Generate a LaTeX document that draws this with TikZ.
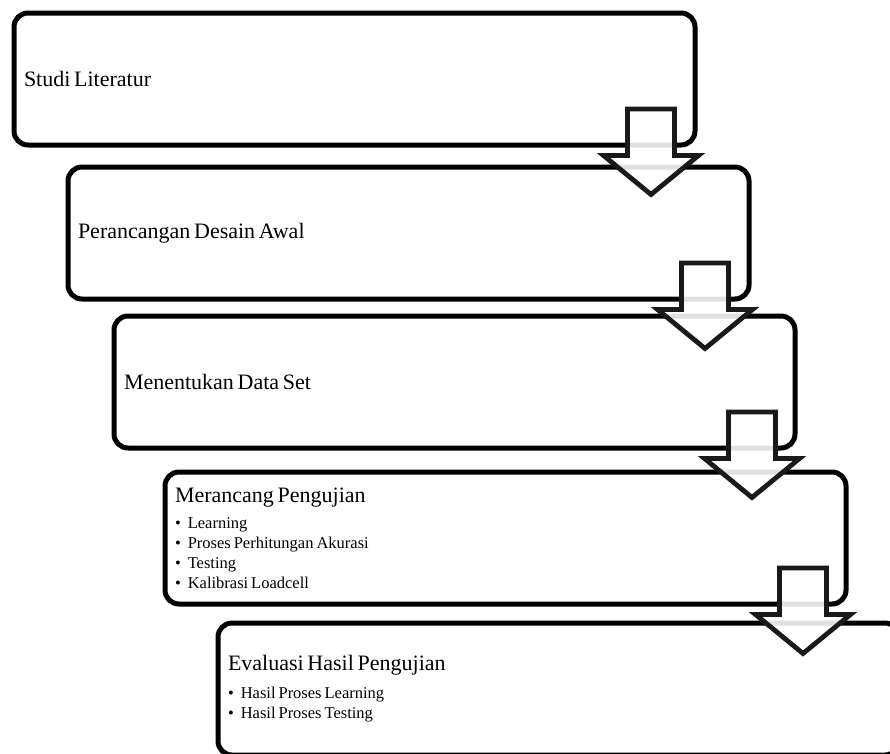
\documentclass[tikz,border=0pt]{standalone}
\usepackage{fontspec}
\setmainfont{Liberation Serif}
\usetikzlibrary{calc}

\newcommand{\titlesize}{\fontsize{22}{26}\selectfont\setlength{\spaceskip}{0.17em}}
\newcommand{\bulletsize}{\fontsize{16.5}{20}\selectfont\setlength{\spaceskip}{0.18em}}

\tikzset{
  stagebox/.style={draw=black, line width=5pt, rounded corners=14pt,
    anchor=north west, outer sep=0pt, inner xsep=10pt, inner ysep=4pt,
    text width=661pt, minimum height=132pt, align=flush left,
    font=\titlesize},
  downarrow/.style={draw=black!90, line width=4.8pt, fill=white,
    fill opacity=0.88, miter limit=10}
}

\begin{document}
\begin{tikzpicture}[x=1pt,y=1pt]
    \useasboundingbox (0,0) rectangle (890,-753);
    \clip (0,0) rectangle (890,-753);

    \node [stagebox] (S1) at (14,-13) {Studi Literatur};
    \node [stagebox] (S2) at (68,-167) {Perancangan Desain Awal};
    \node [stagebox] (S3) at (114,-316) {Menentukan Data Set};
    \node [stagebox] (S4) at (165,-472) {Merancang Pengujian\par\vspace{6pt}
      {\bulletsize\textbullet\hspace{7pt}Learning\\
       \textbullet\hspace{7pt}Proses Perhitungan Akurasi\\
       \textbullet\hspace{7pt}Testing\\
       \textbullet\hspace{7pt}Kalibrasi Loadcell\par}};
    \node [stagebox] (S5) at (218,-623) {Evaluasi Hasil Pengujian\par\vspace{8pt}
      {\bulletsize\textbullet\hspace{7pt}Hasil Proses Learning\\
       \textbullet\hspace{7pt}Hasil Proses Testing\par}};

    % arrow tips, below the right end of each box
    \coordinate (T1) at ($(S1.south east)+(-44,-49.5)$);
    \coordinate (T2) at ($(S2.south east)+(-44,-49.5)$);
    \coordinate (T3) at ($(S3.south east)+(-43,-49.5)$);
    \coordinate (T4) at ($(S4.south east)+(-43,-49.5)$);

    \draw [downarrow] (T1) -- ++(-47.5,39) -- ++(24,0) -- ++(0,46.5) -- ++(47,0) -- ++(0,-46.5) -- ++(24,0) -- cycle;
    \draw [downarrow] (T2) -- ++(-47.5,39) -- ++(24,0) -- ++(0,46.5) -- ++(47,0) -- ++(0,-46.5) -- ++(24,0) -- cycle;
    \draw [downarrow] (T3) -- ++(-47.5,39) -- ++(24,0) -- ++(0,46.5) -- ++(47,0) -- ++(0,-46.5) -- ++(24,0) -- cycle;
    \draw [downarrow] (T4) -- ++(-47.5,39) -- ++(24,0) -- ++(0,46.5) -- ++(47,0) -- ++(0,-46.5) -- ++(24,0) -- cycle;
\end{tikzpicture}
\end{document}
